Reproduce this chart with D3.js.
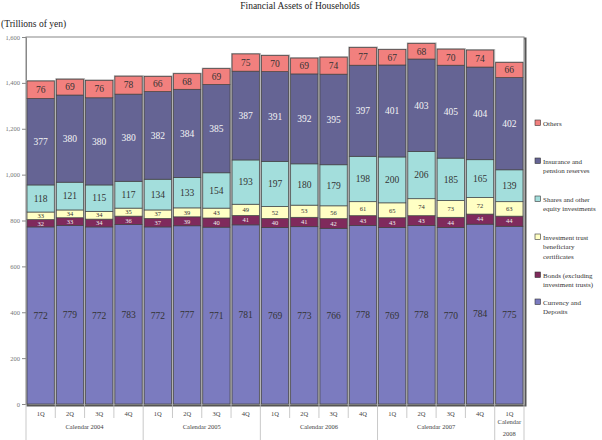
<!DOCTYPE html>
<html>
<head>
<meta charset="utf-8">
<script src="https://cdn.jsdelivr.net/npm/d3@7"></script>
<style>
  body { margin: 0; background: #fff; }
</style>
</head>
<body>
<svg id="chart" width="602" height="440"></svg>
<script>
// quarters, one per bar
var quarters = ["1Q", "2Q", "3Q", "4Q", "1Q", "2Q", "3Q", "4Q", "1Q", "2Q", "3Q", "4Q", "1Q", "2Q", "3Q", "4Q", "1Q"];
var years = ["Calendar 2004", "Calendar 2005", "Calendar 2006", "Calendar 2007", "Calendar\n2008"];
var yearSpans = [4, 4, 4, 4, 1];

// series, bottom to top (trillions of yen)
var currency = [772, 779, 772, 783, 772, 777, 771, 781, 769, 773, 766, 778, 769, 778, 770, 784, 775];
var bonds = [32, 33, 34, 36, 37, 39, 40, 41, 40, 41, 42, 43, 43, 43, 44, 44, 44];
var trusts = [33, 34, 34, 35, 37, 39, 43, 49, 52, 53, 56, 61, 65, 74, 73, 72, 63];
var shares = [118, 121, 115, 117, 134, 133, 154, 193, 197, 180, 179, 198, 200, 206, 185, 165, 139];
var insurance = [377, 380, 380, 380, 382, 384, 385, 387, 391, 392, 395, 397, 401, 403, 405, 404, 402];
var others = [76, 69, 76, 78, 66, 68, 69, 75, 70, 69, 74, 77, 67, 68, 70, 74, 66];

var seriesNames = ["Currency and\nDeposits", "Bonds (excluding\ninvestment trusts)", "Investment trust\nbeneficiary\ncertificates", "Shares and other\nequity investments", "Insurance and\npension reserves", "Others"];
var yTicks = [0, 200, 400, 600, 800, 1000, 1200, 1400, 1600];

var seriesData = [currency, bonds, trusts, shares, insurance, others];
var colors = ["#7b7bbf", "#7f2a5c", "#ffffc4", "#a3dedc", "#656494", "#f2807e"];
var labelColors = ["#333", "#eee", "#333", "#333", "#f4f4f4", "#333"];
var labelSizes = [9.5, 6.5, 6.5, 9.5, 9.5, 9.5];
var serif = "'Liberation Serif', 'Times New Roman', serif";

var svg = d3.select("#chart");
var pLeft = 26, pRight = 524, pTop = 37, pBottom = 404;

var x = d3.scaleBand()
  .domain(d3.range(quarters.length))
  .range([pLeft, pRight])
  .paddingInner(0.07)
  .paddingOuter(0.035);
var y = d3.scaleLinear().domain([0, 1600]).range([pBottom, pTop]);

// title
svg.append("text").attr("x", 300).attr("y", 9).attr("text-anchor", "middle")
  .style("font-size", "9.5px").style("fill", "#222")
  .text("Financial Assets of Households");
svg.append("text").attr("x", 1).attr("y", 27)
  .style("font-size", "9.5px").style("fill", "#222")
  .text("(Trillions of yen)");

// plot frame with shadow
svg.append("rect").attr("x", pLeft + 1.5).attr("y", pTop + 1.5)
  .attr("width", pRight - pLeft).attr("height", pBottom - pTop)
  .attr("fill", "none").attr("stroke", "#555").attr("stroke-width", 2);
svg.append("rect").attr("x", pLeft).attr("y", pTop)
  .attr("width", pRight - pLeft).attr("height", pBottom - pTop)
  .attr("fill", "#fff").attr("stroke", "#888").attr("stroke-width", 1);

// y axis
var yAxis = svg.append("g").attr("transform", "translate(" + pLeft + ",0)")
  .call(d3.axisLeft(y).tickValues(yTicks).tickSize(4).tickFormat(d3.format(",")));
yAxis.attr("font-family", null);
yAxis.select(".domain").attr("stroke", "#888");
yAxis.selectAll(".tick line").attr("stroke", "#888");
yAxis.selectAll(".tick text").attr("x", -6).style("font-size", "6.5px")
  .style("fill", "#777");

// stack
var rows = quarters.map(function(q, i) {
  var r = { i: i };
  seriesData.forEach(function(s, k) { r["s" + k] = s[i]; });
  return r;
});
var keys = seriesData.map(function(s, k) { return "s" + k; });
var stacked = d3.stack().keys(keys)(rows);

function total(d) {
  return d3.sum(keys, function(k) { return d[k]; });
}

// bar shadows
svg.append("g").selectAll("rect")
  .data(rows)
  .enter()
  .append("rect")
  .attr("x", function(d) { return x(d.i) - 1; })
  .attr("width", x.bandwidth() + 2.5)
  .attr("y", function(d) { return y(total(d)) - 1; })
  .attr("height", function(d) { return pBottom - y(total(d)) + 1; })
  .attr("fill", "#b0b0b0");

var layers = svg.append("g").selectAll("g")
  .data(stacked)
  .enter()
  .append("g")
  .attr("fill", function(d, k) { return colors[k]; });

layers.selectAll("rect")
  .data(function(d) { return d; })
  .enter()
  .append("rect")
  .attr("x", function(d) { return x(d.data.i); })
  .attr("width", x.bandwidth())
  .attr("y", function(d) { return y(d[1]); })
  .attr("height", function(d) { return y(d[0]) - y(d[1]); })
  .attr("stroke", "#444")
  .attr("stroke-width", 0.7);

// value labels
stacked.forEach(function(layer, k) {
  svg.append("g").selectAll("text")
    .data(layer)
    .enter()
    .append("text")
    .attr("x", function(d) { return x(d.data.i) + x.bandwidth() / 2; })
    .attr("y", function(d) { return (y(d[0]) + y(d[1])) / 2; })
    .attr("dy", "0.35em")
    .attr("text-anchor", "middle")
    .style("font-size", labelSizes[k] + "px")
    .style("fill", labelColors[k])
    .text(function(d) { return d[1] - d[0]; });
});

// x axis: quarter labels and separators
var xa = svg.append("g");
quarters.forEach(function(q, i) {
  xa.append("text")
    .attr("x", x(i) + x.bandwidth() / 2).attr("y", 416)
    .attr("text-anchor", "middle")
    .style("font-size", "6.5px").style("fill", "#444")
    .text(q);
});
var boundaries = [0];
yearSpans.forEach(function(n, j) { boundaries.push(boundaries[j] + n); });
d3.range(quarters.length + 1).forEach(function(i) {
  var bx = pLeft + i * (pRight - pLeft) / quarters.length;
  var isLong = boundaries.indexOf(i) >= 0;
  xa.append("line")
    .attr("x1", bx).attr("x2", bx)
    .attr("y1", pBottom).attr("y2", isLong ? 440 : 418)
    .attr("stroke", "#bbb").attr("stroke-width", 0.8);
});
years.forEach(function(yr, j) {
  var x0 = pLeft + boundaries[j] * (pRight - pLeft) / quarters.length;
  var x1 = pLeft + boundaries[j + 1] * (pRight - pLeft) / quarters.length;
  var lines = yr.split("\n");
  var t = xa.append("text")
    .attr("x", (x0 + x1) / 2).attr("y", lines.length > 1 ? 424 : 429)
    .attr("text-anchor", "middle")
    .style("font-size", "6.5px").style("fill", "#444");
  lines.forEach(function(l, m) {
    t.append("tspan").attr("x", (x0 + x1) / 2).attr("dy", m ? 12 : 0).text(l);
  });
});

// legend, top item first
var legendY = [124, 162, 200, 238, 276, 303];
var legend = svg.append("g").selectAll("g")
  .data(d3.range(seriesNames.length).reverse())
  .enter()
  .append("g")
  .attr("transform", function(k, i) { return "translate(535," + legendY[i] + ")"; });

legend.append("rect")
  .attr("x", 0).attr("y", -4).attr("width", 5.5).attr("height", 5.5)
  .attr("fill", function(k) { return colors[k]; })
  .attr("stroke", "#333").attr("stroke-width", 0.6);

legend.append("text")
  .attr("x", 8).attr("y", 1.5)
  .style("font-size", "7px").style("fill", "#333")
  .each(function(k) {
    var t = d3.select(this);
    seriesNames[k].split("\n").forEach(function(l, m) {
      t.append("tspan").attr("x", 8).attr("dy", m ? 9.5 : 0).text(l);
    });
  });

svg.selectAll("text").style("font-family", serif);
</script>
</body>
</html>
